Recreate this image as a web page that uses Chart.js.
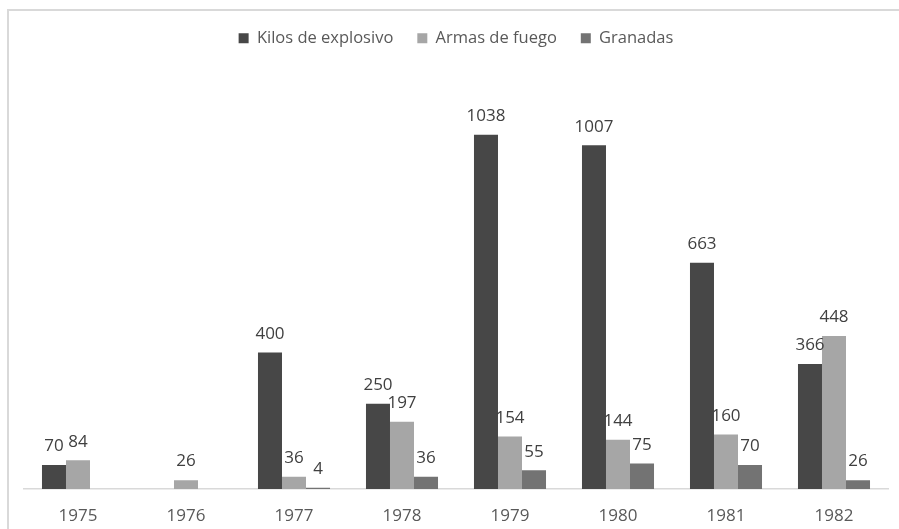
<!DOCTYPE html>
<html>
<head>
<meta charset="utf-8">
<script src="https://cdn.jsdelivr.net/npm/chart.js@4"></script>
<style>
  html, body { margin: 0; padding: 0; background: #fff; }
  #wrap { position: relative; width: 899px; height: 529px; overflow: hidden; }
  #frame { position: absolute; left: 7px; top: 9px; width: 1000px; height: 1000px;
           border-left: 2px solid #d9d9d9; border-top: 2px solid #d9d9d9; }
  canvas { position: absolute; left: 0; top: 0; }
</style>
</head>
<body>
<div id="wrap">
  <div id="frame"></div>
  <canvas id="chart" width="899" height="529"></canvas>
</div>
<script>
const years = ['1975', '1976', '1977', '1978', '1979', '1980', '1981', '1982'];
const kilos = [70, null, 400, 250, 1038, 1007, 663, 366];
const armas = [84, 26, 36, 197, 154, 144, 160, 448];
const granadas = [null, null, 4, 36, 55, 75, 70, 26];

const fontFamily = "'Open Sans', 'Liberation Sans', sans-serif";

// simple value labels above each bar
const barLabels = {
  id: 'barLabels',
  afterDatasetsDraw(chart) {
    const ctx = chart.ctx;
    ctx.save();
    ctx.font = '17px ' + fontFamily;
    ctx.fillStyle = '#404040';
    ctx.textAlign = 'center';
    ctx.textBaseline = 'bottom';
    chart.data.datasets.forEach((ds, i) => {
      chart.getDatasetMeta(i).data.forEach((bar, j) => {
        const v = ds.data[j];
        if (v === null) return;
        ctx.fillText(v, bar.x, bar.y - 10);
      });
    });
    ctx.restore();
  }
};

// extra room under the legend
const legendGap = {
  id: 'legendGap',
  beforeInit(chart) {
    const fit = chart.legend.fit;
    chart.legend.fit = function () {
      fit.bind(chart.legend)();
      this.height += 23;
    };
  }
};

new Chart(document.getElementById('chart').getContext('2d'), {
  type: 'bar',
  data: {
    labels: years,
    datasets: [
      { label: 'Kilos de explosivo', data: kilos, backgroundColor: '#474747' },
      { label: 'Armas de fuego', data: armas, backgroundColor: '#a6a6a6' },
      { label: 'Granadas', data: granadas, backgroundColor: '#737373' }
    ]
  },
  options: {
    responsive: false,
    animation: false,
    layout: { padding: { left: 24, right: 11, top: 6, bottom: 4 } },
    datasets: {
      bar: { categoryPercentage: 0.667, barPercentage: 1.0 }
    },
    scales: {
      x: {
        grid: { display: false },
        border: { color: '#d9d9d9', width: 1.5 },
        ticks: { color: '#595959', font: { family: fontFamily, size: 17 }, padding: 9 },
        afterFit(scale) { scale.height = 36; }
      },
      y: {
        display: false,
        min: 0,
        max: 1200
      }
    },
    plugins: {
      legend: {
        position: 'top',
        labels: {
          color: '#595959',
          font: { family: fontFamily, size: 16.5 },
          boxWidth: 10,
          boxHeight: 10,
          padding: 24
        }
      },
      tooltip: { enabled: false }
    }
  },
  plugins: [barLabels, legendGap]
});
</script>
</body>
</html>
